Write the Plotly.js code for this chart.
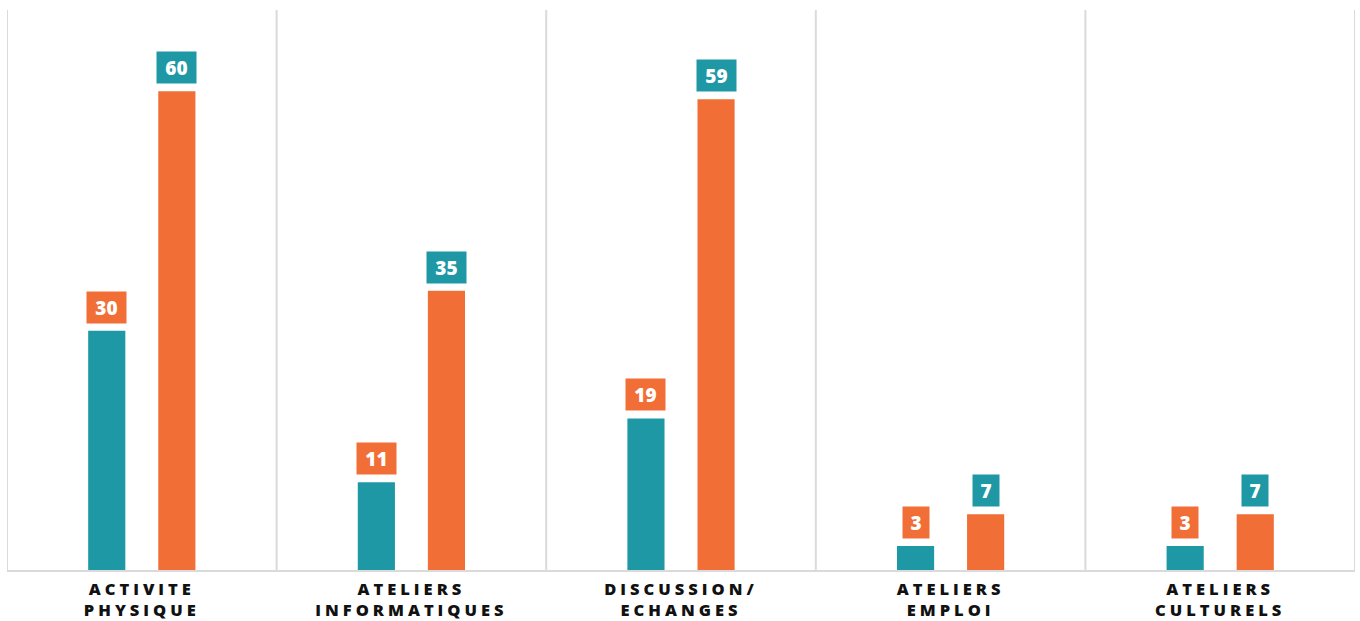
<!DOCTYPE html>
<html>
<head>
<meta charset="utf-8">
<script src="https://cdn.plot.ly/plotly-3.0.1.min.js"></script>
<style>
html, body { margin: 0; padding: 0; background: #fff; }
#chart { width: 1360px; height: 621px; }
.xtick text { letter-spacing: 4px; }
</style>
</head>
<body>
<div id="chart"></div>
<script>
const categories = ["ACTIVITE<br>PHYSIQUE", "ATELIERS<br>INFORMATIQUES", "DISCUSSION/<br>ECHANGES", "ATELIERS<br>EMPLOI", "ATELIERS<br>CULTURELS"];
const seriesA = [30, 11, 19, 3, 3];
const seriesB = [60, 35, 59, 7, 7];

const teal = "#1E98A5";
const orange = "#F26E37";
const grid = "#DADADA";

const bargap = 0.48;
const offset = (1 - bargap) / 4;

const traces = [
  { type: "bar", x: categories, y: seriesA, marker: { color: teal }, hoverinfo: "none" },
  { type: "bar", x: categories, y: seriesB, marker: { color: orange }, hoverinfo: "none" }
];

function labelBox(x, v, bg) {
  const t = String(v);
  return {
    xref: "x", yref: "y", x: x, y: v, text: t,
    showarrow: false, yanchor: "bottom", yshift: 7, bgcolor: bg, borderpad: 3,
    width: 7 + 13 * t.length, height: 25, align: "center", valign: "middle",
    font: { family: "Open Sans", size: 19, color: "#fff", weight: 800 }
  };
}

const annotations = [];
categories.forEach((c, i) => {
  annotations.push(labelBox(i - offset, seriesA[i], orange));
  annotations.push(labelBox(i + offset, seriesB[i], teal));
});

const shapes = [];
for (let k = 0; k <= categories.length; k++) {
  shapes.push({
    type: "line", xref: "x", yref: "paper", x0: k - 0.5, x1: k - 0.5, y0: 0, y1: 1,
    line: { color: grid, width: 2 }, layer: "below"
  });
}

const layout = {
  width: 1360, height: 621,
  margin: { l: 7, r: 5, t: 10, b: 51 },
  paper_bgcolor: "#fff", plot_bgcolor: "#fff",
  barmode: "group", bargap: bargap, bargroupgap: 0.47,
  showlegend: false,
  xaxis: {
    type: "category", range: [-0.5, 4.5], showgrid: false, zeroline: false,
    showline: true, linecolor: grid, linewidth: 2, ticks: "",
    ticklabelstandoff: 3,
    tickfont: { family: "Open Sans", size: 16.5, color: "#111", weight: 800 },
    fixedrange: true
  },
  yaxis: {
    range: [0, 70.2], showgrid: false, zeroline: false, showticklabels: false,
    showline: false, ticks: "", fixedrange: true
  },
  annotations: annotations,
  shapes: shapes
};

Plotly.newPlot("chart", traces, layout, { displayModeBar: false, staticPlot: true });
</script>
</body>
</html>
